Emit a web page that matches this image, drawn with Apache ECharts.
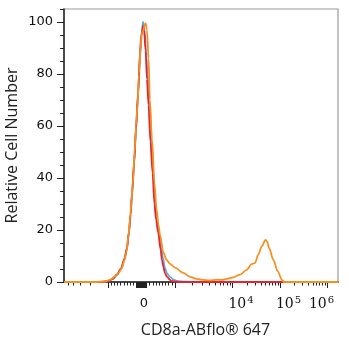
<!DOCTYPE html>
<html><head><meta charset="utf-8">
<script src="https://cdn.jsdelivr.net/npm/echarts@6/dist/echarts.min.js"></script>
<style>html,body{margin:0;padding:0;background:#fff}#c{width:349px;height:350px}</style>
</head><body><div id="c"></div>
<script>
// Histogram data: x in display channels (0–1024, biexponential scale), y = relative cell number
const blueX = [0,135,164,183,198,213,226,235,243,249,254,262,269,277,284,290,293,296,301,306,312,318,325,333,339,346,354,363,370,377,385,396,409,426,452,490,1024];
const blueY = [0,0,0.3,1.2,2.8,5,8.5,12.5,19,26,33,45,58,72,86,95,98.5,100,97,90,80,70,56,44,32,25,19.5,13,9,5.5,3.3,2,0.9,0.3,0.1,0,0];
const redX = [0,135,164,183,198,213,226,235,243,249,254,262,269,277,284,288,292,295,299,305,310,316,323,331,338,344,352,361,366,371,377,385,396,404,419,452,1024];
const redY = [0,0,0.3,1.2,2.8,5.2,9,13,19.5,26,34,46,59,73,88,94.5,96,98.5,97,89,78,68,54,42,30,24,19,12.5,8.5,6,3.5,2,0.8,0.3,0.1,0,0];
const orangeX = [0,116,153,172,191,204,216,226,234,241,247,252,257,264,269,275,280,286,290,295,301,305,310,316,321,329,338,346,353,359,371,383,396,415,446,471,496,519,546,572,591,608,632,658,683,701,714,726,739,753,759,767,782,799,814,822,1024];
const orangeY = [0,0,0.2,0.8,2.2,3.5,5.4,8.5,11.8,18,24.6,31,37.4,50,60,68.2,80,90,95,96.5,98.5,99.6,97,86,70,55,38,28,22,18,11.5,8.5,7,5.5,3.5,2,1.2,0.8,0.6,0.9,0.8,1.2,1.8,2.8,4.7,6.9,7.3,10.5,13.7,16.2,15.5,13,8.6,4.1,0.9,0,0];

const yLabelValues = [0,20,40,60,80,100];
const xLabelValues = [0, 1e4, 1e5, 1e6];
const xMajorValues = [-1000, 1000, 1e4, 1e5, 1e6];

// Biexponential display transform: raw value -> channel
const ZERO_CH = 289.6;
function toChannel(v) {
  const a = Math.abs(v), s = v < 0 ? -1 : 1;
  let d;
  if (a <= 100) d = a * 0.187;
  else if (a <= 1000) d = 18.7 + (a - 100) * (125.2 - 18.7) / 900;
  else {
    const L = Math.log10(a);
    if (L <= 4) d = 125.2 + (L - 3) * 215;
    else if (L <= 5) d = 340.2 + (L - 4) * 177.5;
    else d = 517.7 + (L - 5) * 175.6;
  }
  return ZERO_CH + s * d;
}

// tick value lists
const minorVals = [];
for (let n = 2; n <= 5; n++) minorVals.push(-n * 1000);
for (let n = 2; n <= 9; n++) { minorVals.push(-n * 100); minorVals.push(n * 100); }
for (let k = 3; k <= 5; k++) for (let n = 2; n <= 9; n++) minorVals.push(n * Math.pow(10, k));
const nearZero = [0];
for (let n = 1; n <= 10; n++) { nearZero.push(n * 10); nearZero.push(-n * 10); }

const minorCh = minorVals.map(toChannel).filter(c => c >= 0 && c <= 1024);
const majorCh = xMajorValues.concat(nearZero).map(toChannel);
const labelCh = xLabelValues.map(toChannel);

const yMinorVals = [];
for (let v = 0; v <= 105; v += 5) yMinorVals.push(v);

function pairs(xs, ys) { return xs.map((x, i) => [x, ys[i]]); }
function nearestLabelValue(val) {
  let best = 0, bd = 1e9;
  labelCh.forEach((c, i) => { if (Math.abs(c - val) < bd) { bd = Math.abs(c - val); best = xLabelValues[i]; } });
  return best;
}

const chart = echarts.init(document.getElementById('c'), null, {renderer: 'canvas'});
const gridRect = {left: 64, right: 11, top: 9, bottom: 68, outerBoundsMode: 'none', containLabel: false};
const XMIN = 0, XMAX = 1024, YMIN = 0, YMAX = 105;

chart.setOption({
  animation: false,
  backgroundColor: '#fff',
  grid: [
    Object.assign({show: true, borderColor: '#999', borderWidth: 1.2, backgroundColor: 'transparent'}, gridRect),
    Object.assign({show: false}, gridRect)
  ],
  xAxis: [
    {
      type: 'value', gridIndex: 0, min: XMIN, max: XMAX, position: 'bottom',
      name: 'CD8a-ABflo® 647', nameLocation: 'middle', nameGap: 40, nameMoveOverlap: false,
      nameTextStyle: {fontFamily: 'Open Sans', fontSize: 16, color: '#222', padding: [0, 0, 0, 9]},
      axisLine: {show: true, onZero: false, lineStyle: {color: '#222', width: 1.5}},
      axisTick: {show: true, inside: false, customValues: minorCh, length: 3.5, lineStyle: {color: '#222', width: 1}},
      axisLabel: {
        show: true, inside: false, customValues: labelCh, margin: 13, color: '#111',
        formatter: function (val) {
          const v = nearestLabelValue(val);
          if (v === 0) return '{sp0| }{z|0}';
          const e = Math.round(Math.log10(v));
          if (e === 6) return '{b|10}{s|' + e + '}{sp6| }';
          return '{sp4| }{b|10}{s|' + e + '}';
        },
        rich: {
          z: {fontFamily: 'DejaVu Sans', fontSize: 13, color: '#111', lineHeight: 18},
          b: {fontFamily: 'DejaVu Serif', fontSize: 14, color: '#111', lineHeight: 18},
          s: {fontFamily: 'DejaVu Serif', fontSize: 10, color: '#111', lineHeight: 10, verticalAlign: 'top', padding: [0, 0, 0, 1]},
          sp0: {width: 5},
          sp4: {width: 17},
          sp6: {width: 11}
        }
      },
      splitLine: {show: false}
    },
    {
      type: 'value', gridIndex: 1, min: XMIN, max: XMAX, position: 'bottom',
      axisLine: {show: false, onZero: false},
      axisTick: {show: true, inside: false, customValues: majorCh, length: 6, lineStyle: {color: '#222', width: 1}},
      axisLabel: {show: false},
      splitLine: {show: false}
    }
  ],
  yAxis: [
    {
      type: 'value', gridIndex: 0, min: YMIN, max: YMAX, position: 'left',
      name: 'Relative Cell Number', nameLocation: 'middle', nameGap: 44, nameMoveOverlap: false,
      nameTextStyle: {fontFamily: 'Open Sans', fontSize: 16, color: '#222'},
      axisLine: {show: true, onZero: false, lineStyle: {color: '#222', width: 1.5}},
      axisTick: {show: true, inside: false, customValues: yMinorVals, length: 4, lineStyle: {color: '#222', width: 1}},
      axisLabel: {show: true, inside: false, customValues: yLabelValues, margin: 11, fontFamily: 'DejaVu Sans', fontSize: 13, color: '#111'},
      splitLine: {show: false}
    },
    {
      type: 'value', gridIndex: 1, min: YMIN, max: YMAX, position: 'left',
      axisLine: {show: false, onZero: false},
      axisTick: {show: true, inside: false, customValues: yLabelValues, length: 7, lineStyle: {color: '#222', width: 1}},
      axisLabel: {show: false},
      splitLine: {show: false}
    }
  ],
  series: [
    {type: 'line', xAxisIndex: 0, yAxisIndex: 0, data: pairs(blueX, blueY), symbol: 'none', smooth: 0.3, smoothMonotone: 'x', lineStyle: {color: '#5aaae0', width: 1.8}},
    {type: 'line', xAxisIndex: 0, yAxisIndex: 0, data: pairs(redX, redY), symbol: 'none', smooth: 0.3, smoothMonotone: 'x', lineStyle: {color: '#e8232e', width: 1.8}},
    {type: 'line', xAxisIndex: 0, yAxisIndex: 0, data: pairs(orangeX, orangeY), symbol: 'none', smooth: 0.3, smoothMonotone: 'x', lineStyle: {color: '#f7901e', width: 1.8}}
  ]
});
</script>
</body></html>
